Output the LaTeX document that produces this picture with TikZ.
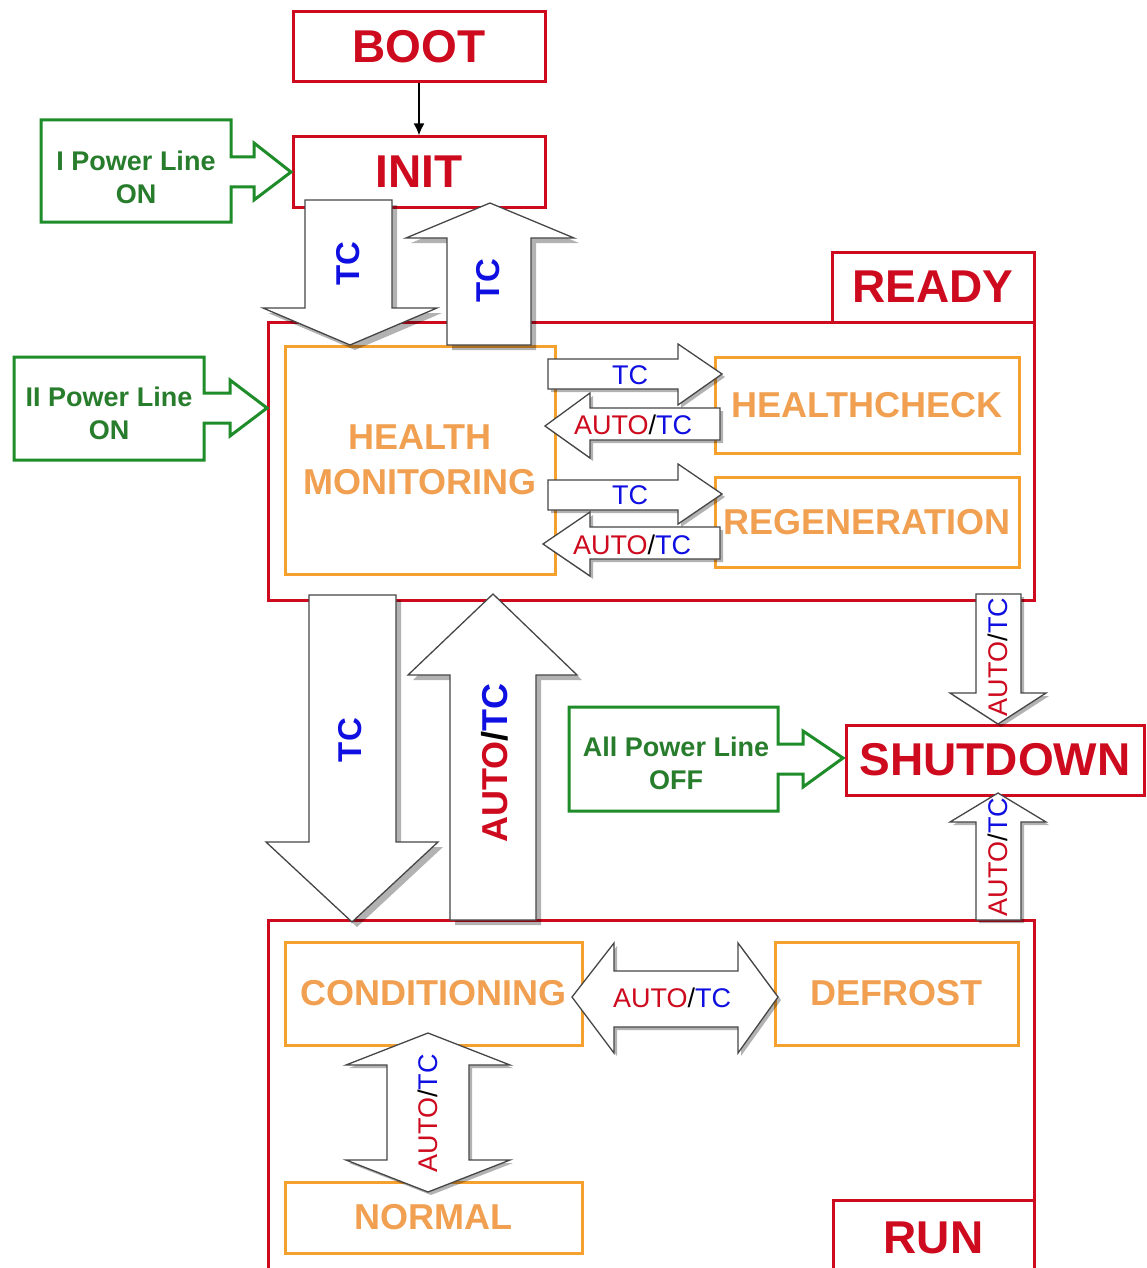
\documentclass[tikz,border=0pt]{standalone}
\usepackage{fontspec}
\setmainfont{Liberation Sans}
\usetikzlibrary{shadows,arrows.meta}
\definecolor{myred}{RGB}{205,10,30}
\definecolor{myorange}{RGB}{246,160,45}
\definecolor{myorangetxt}{RGB}{240,160,80}
\definecolor{mygreen}{RGB}{30,140,40}
\definecolor{mygreentxt}{RGB}{40,125,45}
\definecolor{myblue}{RGB}{15,15,225}
\definecolor{arrowgray}{RGB}{70,70,70}
\newcommand\autotc{\textcolor{myred}{AUTO}\textcolor{black}{/}\textcolor{myblue}{TC}}
\begin{document}
\begin{tikzpicture}[x=1pt,y=-1pt,
 redbox/.style={draw=myred, line width=3, inner sep=0, text=myred, font=\bfseries\fontsize{46}{50}\selectfont},
 orbox/.style={draw=myorange, line width=3, inner sep=0, text=myorangetxt, font=\bfseries\fontsize{36}{45}\selectfont, align=center},
 greenshape/.style={draw=mygreen, line width=3, fill=white, line join=miter},
 greentext/.style={text=mygreentxt, font=\bfseries\fontsize{27}{33}\selectfont, align=center},
 blockarrow/.style={draw=arrowgray, line width=1.3, fill=white, line join=miter, drop shadow={shadow xshift=5pt, shadow yshift=-5pt, opacity=0.3, fill=black}},
 smallarrow/.style={draw=arrowgray, line width=1.3, fill=white, line join=miter, drop shadow={shadow xshift=3pt, shadow yshift=-3pt, opacity=0.3, fill=black}},
 biglabel/.style={font=\bfseries\fontsize{33}{36}\selectfont, text=myblue, rotate=90},
 smalllabel/.style={font=\fontsize{27}{30}\selectfont, text=myblue}
]
\useasboundingbox (0,0) rectangle (1147,1268);
\clip (0,0) rectangle (1147,1268);
\fill[white] (0,0) rectangle (1147,1268);

% state boxes
\node[redbox, minimum width=252, minimum height=70] (boot) at (419,47) {BOOT};
\node[redbox, minimum width=252, minimum height=70] (init) at (419,172) {INIT};
\node[redbox, minimum width=766, minimum height=278] (ready) at (651,461) {};
\node[redbox, minimum width=202, minimum height=70] (readylbl) at (933,287) {READY};
\node[orbox, minimum width=270, minimum height=228] (hm) at (420,460) {HEALTH\\MONITORING};
\node[orbox, minimum width=304, minimum height=96] (hc) at (867,405) {HEALTHCHECK};
\node[orbox, minimum width=304, minimum height=90] (regen) at (867,522) {REGENERATION};
\node[redbox, minimum width=298, minimum height=70] (shutdown) at (995,760) {SHUTDOWN};
\node[redbox, minimum width=766, minimum height=400] (run) at (651,1120) {};
\node[redbox, minimum width=201, minimum height=76] (runlbl) at (933.5,1238) {RUN};
\node[orbox, minimum width=297, minimum height=103] (cond) at (433.5,993.5) {CONDITIONING};
\node[orbox, minimum width=243, minimum height=103] (defrost) at (896.5,993.5) {DEFROST};
\node[orbox, minimum width=297, minimum height=71] (normal) at (433.5,1217.5) {NORMAL};

% boot -> init
\draw[line width=2, -{Latex[length=12,width=11]}] (boot.south) -- (init.north);

% big block arrows
\draw[blockarrow] (305,200) -- (392,200) -- (392,308) -- (437,308) -- (350,345) -- (263,308) -- (305,308) -- cycle;
\node[biglabel] (tc1) at (348,264) {TC};
\draw[blockarrow] (447,345) -- (531,345) -- (531,238) -- (574,238) -- (490,203) -- (406,238) -- (447,238) -- cycle;
\node[biglabel] (tc2) at (488,281) {TC};
\draw[blockarrow] (309,595) -- (396,595) -- (396,842) -- (438,842) -- (352,922) -- (266,842) -- (309,842) -- cycle;
\node[biglabel] (tc3) at (350,740) {TC};
\draw[blockarrow] (450,920) -- (536,920) -- (536,675) -- (577,675) -- (493,594) -- (408,675) -- (450,675) -- cycle;
\node[biglabel, font=\bfseries\fontsize{36}{40}\selectfont] (at1) at (495,763) {\autotc};

% small arrows in READY
\draw[smallarrow] (548,359) -- (678,359) -- (678,344) -- (722,374) -- (678,405) -- (678,389) -- (548,389) -- cycle;
\node[smalllabel] (tc4) at (630,375) {TC};
\draw[smallarrow] (720,408) -- (590,408) -- (590,393) -- (545,426) -- (590,458) -- (590,440) -- (720,440) -- cycle;
\node[smalllabel] (at2) at (633,425) {\autotc};
\draw[smallarrow] (548,480) -- (678,480) -- (678,464) -- (722,494) -- (678,524) -- (678,510) -- (548,510) -- cycle;
\node[smalllabel] (tc5) at (630,495) {TC};
\draw[smallarrow] (720,527) -- (590,527) -- (590,512) -- (543,544) -- (590,576) -- (590,559) -- (720,559) -- cycle;
\node[smalllabel] (at3) at (632,545) {\autotc};

% arrows to shutdown
\draw[smallarrow] (976,594) -- (1021,594) -- (1021,693) -- (1046,693) -- (998,724) -- (950,693) -- (976,693) -- cycle;
\node[smalllabel, rotate=90] (at4) at (998,657) {\autotc};
\draw[smallarrow] (976,920) -- (1021,920) -- (1021,822) -- (1046,822) -- (998,793) -- (950,822) -- (976,822) -- cycle;
\node[smalllabel, rotate=90] (at5) at (998,857) {\autotc};

% double arrows in RUN
\draw[smallarrow] (572,997) -- (614,943) -- (614,971) -- (738,971) -- (738,943) -- (778,997) -- (738,1053) -- (738,1027) -- (614,1027) -- (614,1053) -- cycle;
\node[smalllabel] (at6) at (672,998) {\autotc};
\draw[smallarrow] (428,1033) -- (510,1065) -- (469,1065) -- (469,1160) -- (510,1160) -- (428,1192) -- (346,1160) -- (387,1160) -- (387,1065) -- (346,1065) -- cycle;
\node[smalllabel, rotate=90] (at7) at (428,1113) {\autotc};

% power line arrows
\draw[greenshape] (41,120) -- (231,120) -- (231,157) -- (254,157) -- (254,143) -- (291,172) -- (254,200) -- (254,187) -- (231,187) -- (231,222) -- (41,222) -- cycle;
\node[greentext] (p1) at (136,177) {I Power Line\\ON};
\draw[greenshape] (14,357) -- (204,357) -- (204,393) -- (230,393) -- (230,380) -- (267,408) -- (230,436) -- (230,423) -- (204,423) -- (204,460) -- (14,460) -- cycle;
\node[greentext] (p2) at (109,413) {II Power Line\\ON};
\draw[greenshape] (569,707) -- (778,707) -- (778,744) -- (803,744) -- (803,731) -- (843,758) -- (803,787) -- (803,774) -- (778,774) -- (778,811) -- (569,811) -- cycle;
\node[greentext] (p3) at (676,763) {All Power Line\\OFF};
\end{tikzpicture}
\end{document}
